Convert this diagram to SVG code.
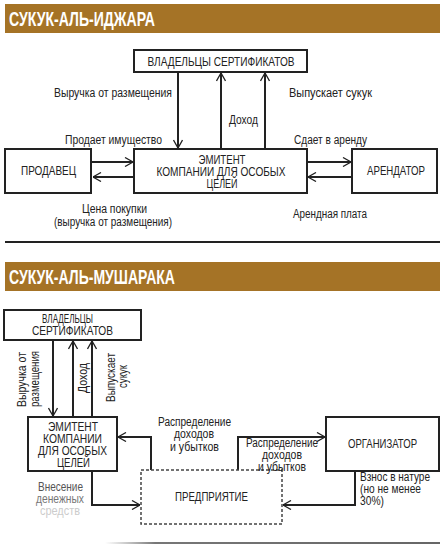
<svg xmlns="http://www.w3.org/2000/svg" width="445" height="555" viewBox="0 0 445 555">
<style>
.t{font-family:"Liberation Sans",Arial,sans-serif;font-size:12px;fill:#222}
.m{text-anchor:middle}
.h{font-family:"Liberation Sans",Arial,sans-serif;font-size:21px;font-weight:bold;fill:#fff}
.box{fill:#fff;stroke:#222;stroke-width:2}
.dbox{fill:#fff;stroke:#444;stroke-width:1.5;stroke-dasharray:3 2}
.c{fill:none;stroke:#222;stroke-width:2}
.e{font-size:12.5px}
</style>
<defs>
<marker id="a" viewBox="0 0 10 10" refX="10" refY="5" markerWidth="10" markerHeight="10" markerUnits="userSpaceOnUse" orient="auto">
<polyline points="2,0.5 10,5 2,9.5" fill="none" stroke="#222" stroke-width="1.3"/>
</marker>
<linearGradient id="g" x1="0" x2="1" y1="0" y2="0"><stop offset="0" stop-color="#888" stop-opacity="0"/><stop offset="0.15" stop-color="#777"/><stop offset="1" stop-color="#666"/></linearGradient>
</defs>
<rect width="445" height="555" fill="#fff"/>
<rect x="5" y="4" width="435" height="29" fill="#a57326"/>
<text class="h" x="9" y="26" textLength="146" lengthAdjust="spacingAndGlyphs">СУКУК-АЛЬ-ИДЖАРА</text>
<rect x="5" y="262" width="435" height="29" fill="#a57326"/>
<text class="h" x="9" y="284" textLength="166" lengthAdjust="spacingAndGlyphs">СУКУК-АЛЬ-МУШАРАКА</text>
<line x1="5" y1="242" x2="440" y2="242" stroke="#222" stroke-width="2"/>
<rect x="105" y="542" width="335" height="2" fill="url(#g)"/>

<g id="connectors">
<line class="c" x1="178" y1="72" x2="178" y2="148" marker-end="url(#a)"/>
<line class="c" x1="221" y1="149" x2="221" y2="73" marker-end="url(#a)"/>
<line class="c" x1="265" y1="149" x2="265" y2="73" marker-end="url(#a)"/>
<line class="c" x1="92" y1="162" x2="133" y2="162" marker-end="url(#a)"/>
<line class="c" x1="134" y1="177" x2="93" y2="177" marker-end="url(#a)"/>
<line class="c" x1="307" y1="162" x2="351" y2="162" marker-end="url(#a)"/>
<line class="c" x1="352" y1="177" x2="308" y2="177" marker-end="url(#a)"/>

<line class="c" x1="53" y1="340" x2="53" y2="416" marker-end="url(#a)"/>
<line class="c" x1="73" y1="417" x2="73" y2="341" marker-end="url(#a)"/>
<line class="c" x1="92" y1="417" x2="92" y2="341" marker-end="url(#a)"/>
<polyline class="c" points="151,470 151,437 118,437" marker-end="url(#a)"/>
<polyline class="c" points="238,470 238,437 325,437" marker-end="url(#a)"/>
<polyline class="c" points="92,471 92,505 140,505" marker-end="url(#a)"/>
<polyline class="c" points="355,471 355,505 283,505" marker-end="url(#a)"/>
</g>

<g id="owners1"><rect class="box" x="134" y="50" width="173" height="22"/><text class="t m" x="221" y="65.5" textLength="147" lengthAdjust="spacingAndGlyphs">ВЛАДЕЛЬЦЫ СЕРТИФИКАТОВ</text></g>
<g id="seller"><rect class="box" x="5" y="149" width="86" height="44"/><text class="t m" x="48.5" y="175" textLength="55" lengthAdjust="spacingAndGlyphs">ПРОДАВЕЦ</text></g>
<g id="issuer1"><rect class="box" x="134" y="149" width="173" height="44"/><text class="t m" x="222" y="164" textLength="47" lengthAdjust="spacingAndGlyphs">ЭМИТЕНТ</text><text class="t m" x="221" y="176" textLength="129" lengthAdjust="spacingAndGlyphs">КОМПАНИИ ДЛЯ ОСОБЫХ</text><text class="t m" x="222" y="188" textLength="31" lengthAdjust="spacingAndGlyphs">ЦЕЛЕЙ</text></g>
<g id="lessee"><rect class="box" x="352" y="149" width="85" height="44"/><text class="t m" x="396" y="175" textLength="58" lengthAdjust="spacingAndGlyphs">АРЕНДАТОР</text></g>

<g id="labels1">
<text class="t" x="54" y="97" textLength="118" lengthAdjust="spacingAndGlyphs">Выручка от размещения</text>
<text class="t" x="289" y="97" textLength="83" lengthAdjust="spacingAndGlyphs">Выпускает  сукук</text>
<text class="t" x="229" y="124" textLength="29" lengthAdjust="spacingAndGlyphs">Доход</text>
<text class="t" x="65" y="144" textLength="97" lengthAdjust="spacingAndGlyphs">Продает имущество</text>
<text class="t" x="294" y="144" textLength="73" lengthAdjust="spacingAndGlyphs">Сдает в аренду</text>
<text class="t" x="82" y="213" textLength="65" lengthAdjust="spacingAndGlyphs">Цена покупки</text>
<text class="t" x="54" y="226" textLength="118" lengthAdjust="spacingAndGlyphs">(выручка от размещения)</text>
<text class="t" x="293" y="218" textLength="74" lengthAdjust="spacingAndGlyphs">Арендная плата</text>
</g>

<g id="owners2"><rect class="box" x="4" y="310" width="137" height="30"/><text class="t m" x="67.5" y="322.5" textLength="51" lengthAdjust="spacingAndGlyphs">ВЛАДЕЛЬЦЫ</text><text class="t m" x="72.5" y="335" textLength="81" lengthAdjust="spacingAndGlyphs">СЕРТИФИКАТОВ</text></g>
<g id="issuer2"><rect class="box" x="28" y="417" width="89" height="54"/><text class="t m e" x="73" y="431" textLength="50" lengthAdjust="spacingAndGlyphs">ЭМИТЕНТ</text><text class="t m e" x="72.5" y="443" textLength="59" lengthAdjust="spacingAndGlyphs">КОМПАНИИ</text><text class="t m e" x="72.5" y="455" textLength="69" lengthAdjust="spacingAndGlyphs">ДЛЯ ОСОБЫХ</text><text class="t m e" x="73.5" y="467" textLength="33" lengthAdjust="spacingAndGlyphs">ЦЕЛЕЙ</text></g>
<g id="organizer"><rect class="box" x="326" y="417" width="113" height="54"/><text class="t m" x="382.5" y="448" textLength="69" lengthAdjust="spacingAndGlyphs">ОРГАНИЗАТОР</text></g>
<g id="enterprise"><rect class="dbox" x="141" y="470" width="141" height="54"/><text class="t m" x="211.5" y="501" textLength="73" lengthAdjust="spacingAndGlyphs">ПРЕДПРИЯТИЕ</text></g>

<g id="labels2">
<text class="t m" transform="translate(26,379.5) rotate(-90)" textLength="55" lengthAdjust="spacingAndGlyphs">Выручка от</text>
<text class="t m" transform="translate(39,379) rotate(-90)" textLength="56" lengthAdjust="spacingAndGlyphs">размещения</text>
<text class="t m" transform="translate(87,378) rotate(-90)" textLength="30" lengthAdjust="spacingAndGlyphs">Доход</text>
<text class="t m" transform="translate(115,377.5) rotate(-90)" textLength="49" lengthAdjust="spacingAndGlyphs">Выпускает</text>
<text class="t m" transform="translate(127,376.5) rotate(-90)" textLength="23" lengthAdjust="spacingAndGlyphs">сукук</text>
<text class="t m" x="194.5" y="426" textLength="73" lengthAdjust="spacingAndGlyphs">Распределение</text>
<text class="t m" x="194" y="438" textLength="40" lengthAdjust="spacingAndGlyphs">доходов</text>
<text class="t m" x="194.5" y="451" textLength="49" lengthAdjust="spacingAndGlyphs">и убытков</text>
<text class="t m" x="282" y="447" textLength="72" lengthAdjust="spacingAndGlyphs">Распределение</text>
<text class="t m" x="282" y="459" textLength="40" lengthAdjust="spacingAndGlyphs">доходов</text>
<text class="t m" x="282" y="471" textLength="48" lengthAdjust="spacingAndGlyphs">и убытков</text>
<text class="t" x="360" y="481" textLength="70" lengthAdjust="spacingAndGlyphs">Взнос в натуре</text>
<text class="t" x="360" y="493" textLength="61" lengthAdjust="spacingAndGlyphs">(но не менее</text>
<text class="t" x="360" y="505" textLength="24" lengthAdjust="spacingAndGlyphs">30%)</text>
<text class="t m" x="60.5" y="491" style="fill:#555" textLength="45" lengthAdjust="spacingAndGlyphs">Внесение</text>
<text class="t m" x="60" y="503" style="fill:#777" textLength="48" lengthAdjust="spacingAndGlyphs">денежных</text>
<text class="t m" x="60" y="515" style="fill:#ccc" textLength="40" lengthAdjust="spacingAndGlyphs">средств</text>
</g>
</svg>
